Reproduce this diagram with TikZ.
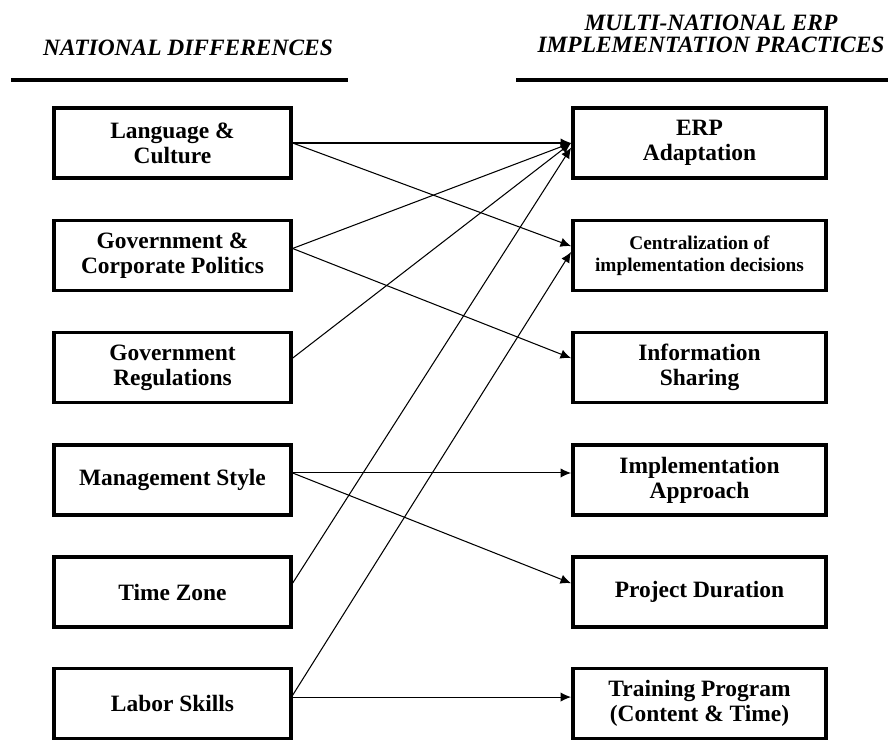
\documentclass[tikz,border=0pt]{standalone}
\usepackage{fontspec}
\setmainfont{Liberation Serif}
\usetikzlibrary{arrows.meta}
\tikzset{
    factor/.style={draw,line width=3pt,minimum width=7.1cm,minimum height=2.1cm,align=center,
        font=\fontsize{20}{21.5}\selectfont\bfseries},
    practice/.style={factor,minimum width=7.6cm},
    header/.style={align=center,font=\fontsize{20}{19}\selectfont\bfseries\itshape},
    rule/.style={line width=3.4pt},
    link/.style={line width=0.9pt,-{Latex[length=9pt,width=8pt]}},
}

\begin{document}
\begin{tikzpicture}[x=0.03cm,y=-0.03cm]
\useasboundingbox (0,0) rectangle (888,740);
% headers
\node[header] (hl) at (188,48) {NATIONAL DIFFERENCES};
\node[header] (hr) at (711,34) {MULTI-NATIONAL ERP\\IMPLEMENTATION PRACTICES};
\draw[rule] (11,80) -- (348,80);
\draw[rule] (516,80) -- (888,80);
% national differences
\node[factor] (lang) at (172.5,143) {Language \&\\Culture};
\node[factor] (gcp) at (172.5,255.5) {Government \&\\Corporate Politics};
\node[factor] (greg) at (172.5,367.5) {Government\\Regulations};
\node[factor] (mgmt) at (172.5,480) {Management Style};
\node[factor] (tz) at (172.5,592) {Time Zone};
\node[factor] (labor) at (172.5,703.5) {Labor Skills};
% implementation practices
\node[practice] (erp) at (699.5,143) {ERP\\Adaptation};
\node[practice,font=\fontsize{16.5}{19}\selectfont\bfseries] (cen) at (699.5,255.5) {Centralization of\\implementation decisions};
\node[practice] (info) at (699.5,367.5) {Information\\Sharing};
\node[practice] (impl) at (699.5,480) {Implementation\\Approach};
\node[practice] (dur) at (699.5,592) {Project Duration};
\node[practice] (train) at (699.5,703.5) {Training Program\\(Content \& Time)};
% links
\draw[link] (lang.east) -- (erp.west);
\draw[link] (lang.east) -- ([yshift=8pt]cen.west);
\draw[link] ([yshift=6pt]gcp.east) -- (erp.west);
\draw[link] ([yshift=6pt]gcp.east) -- ([yshift=8pt]info.west);
\draw[link] ([yshift=8pt]greg.east) -- (erp.west);
\draw[link] ([yshift=6pt]mgmt.east) -- ([yshift=6pt]impl.west);
\draw[link] ([yshift=6pt]mgmt.east) -- ([yshift=7.5pt]dur.west);
\draw[link] ([yshift=7.5pt]tz.east) -- ([yshift=-4pt]erp.west);
\draw[link] ([yshift=7pt]labor.east) -- ([yshift=3pt]cen.west);
\draw[link] ([yshift=5.5pt]labor.east) -- ([yshift=5.5pt]train.west);
\end{tikzpicture}
\end{document}
